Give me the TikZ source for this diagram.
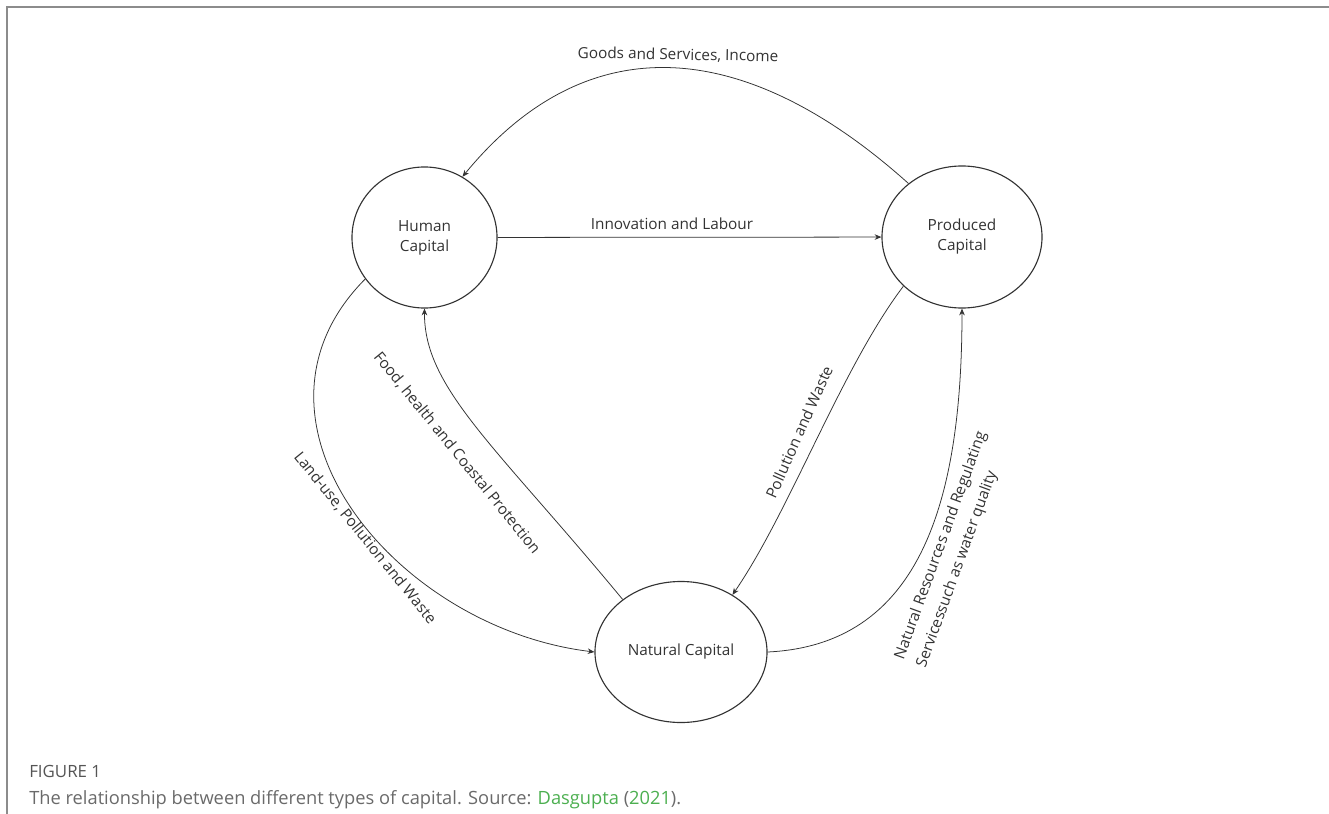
\documentclass[tikz,border=0pt]{standalone}
\usepackage{fontspec}
\setmainfont{Open Sans}
\usetikzlibrary{arrows.meta,shapes.geometric}
\definecolor{inkGrey}{HTML}{333333}
\definecolor{frameGrey}{HTML}{8C8C8C}
\definecolor{captGrey}{HTML}{6A6A6A}
\definecolor{figGrey}{HTML}{555555}
\definecolor{linkGreen}{HTML}{4CAF50}
\tikzset{
  capital/.style={ellipse, draw=inkGrey, line width=0.8pt, inner sep=0pt, align=center,
                  text=inkGrey, font=\fontsize{10.9}{14.2}\selectfont},
  flow/.style={-{Stealth[length=1.7mm, width=1.4mm]}, line width=0.55pt, inkGrey},
  lbl/.style={font=\fontsize{10.9}{16.6}\selectfont, text=inkGrey, inner sep=0pt},
  panel/.style={draw=frameGrey, line width=1.1pt},
}

\begin{document}
\begin{tikzpicture}[x=0.025cm, y=-0.025cm]
    \useasboundingbox (0,0) rectangle (1329,814);
    \draw[panel] (7,814) -- (7,7) -- (1329,7);

    \node[capital, minimum width=3.625cm, minimum height=3.525cm] (human) at (424.5,237.5) {Human\\Capital};
    \node[capital, minimum width=4cm, minimum height=3.55cm] (produced) at (962,237) {Produced\\Capital};
    \node[capital, minimum width=4.3cm, minimum height=3.525cm] (natural) at (681,652) {Natural Capital};

    \draw[flow] (produced.135) .. controls (752,43) and (592,19) .. (human.58);
    \draw[flow] (human) -- (produced);
    \draw[flow] (human.215) .. controls (225,420) and (395,628) .. (natural.west);
    \draw[flow] (natural.138) .. controls (495,445) and (424,388) .. (human.south);
    \draw[flow] (produced.220) .. controls (842,367) and (790,511) .. (natural.48);
    \draw[flow] (natural.east) .. controls (917,645) and (962,508) .. (produced.south);

    \node[lbl, rotate=-1] (goodsLbl) at (678,55) {Goods and Services, Income};
    \node[lbl] (innovLbl) at (672,224) {Innovation and Labour};
    \node[lbl, rotate=-51] (landLbl) at (365,538) {Land-use, Pollution and Waste};
    \node[lbl, rotate=-51] (foodLbl) at (457,453) {Food, health and Coastal Protection};
    \node[lbl, rotate=66] (pollLbl) at (799,432) {Pollution and Waste};
    \node[lbl, rotate=70, align=left] (resLbl) at (952,550) {Natural Resources and Regulating\\Servicessuch as water quality};

    % caption below the figure
    \node[anchor=west, inner sep=0pt, text=figGrey, font=\fontsize{12}{14}\selectfont] (figNo) at (29,771) {FIGURE 1};
    \node[anchor=west, inner sep=0pt, text=captGrey, font=\fontsize{13}{15}\selectfont] (caption) at (29,800)
      {The relationship between different types of capital. Source: \textcolor{linkGreen}{Dasgupta} (\textcolor{linkGreen}{2021}).};
\end{tikzpicture}
\end{document}
